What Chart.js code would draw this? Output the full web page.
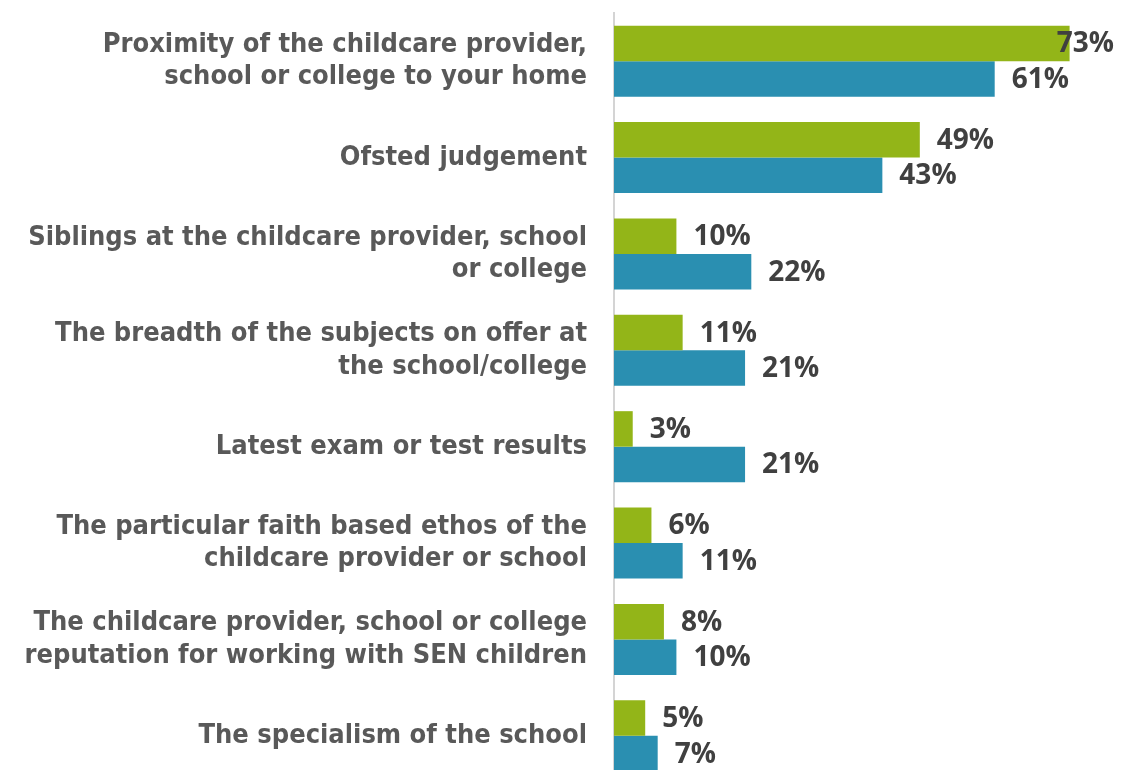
<!DOCTYPE html>
<html>
<head>
<meta charset="utf-8">
<script src="https://cdn.jsdelivr.net/npm/chart.js@4.4.1/dist/chart.umd.min.js"></script>
<style>
  html, body { margin: 0; padding: 0; background: #fff; overflow: hidden; }
  #wrap { width: 1132px; height: 784px; position: relative; }
</style>
</head>
<body>
<div id="wrap"><canvas id="reasonsChart"></canvas></div>
<script>
const categories = [
    ['Proximity of the childcare provider,', 'school or college to your home'],
    'Ofsted judgement',
    ['Siblings at the childcare provider, school', 'or college'],
    ['The breadth of the subjects on offer at', 'the school/college'],
    'Latest exam or test results',
    ['The particular faith based ethos of the', 'childcare provider or school'],
    ['The childcare provider, school or college', 'reputation for working with SEN children'],
    'The specialism of the school'
];
const greenValues = [73, 49, 10, 11, 3, 6, 8, 5];
const blueValues = [61, 43, 22, 21, 21, 11, 10, 7];

// value labels drawn just past the end of each bar, kept inside the canvas
const valueLabels = {
    id: 'valueLabels',
    afterDatasetsDraw(chart) {
        const ctx = chart.ctx;
        ctx.save();
        ctx.font = 'bold 28px "Open Sans"';
        ctx.fillStyle = '#404040';
        ctx.textBaseline = 'middle';
        ctx.textAlign = 'left';
        chart.data.datasets.forEach((ds, i) => {
            chart.getDatasetMeta(i).data.forEach((bar, j) => {
                const text = ds.data[j] + '%';
                const w = ctx.measureText(text).width;
                let x = bar.x + 17;
                if (x + w > chart.width - 18) x = chart.width - 18 - w;
                ctx.fillText(text, x, bar.y + 1);
            });
        });
        ctx.restore();
    }
};

new Chart(document.getElementById('reasonsChart'), {
    type: 'bar',
    data: {
        labels: categories,
        datasets: [
            {
                label: 'Series 1',
                data: greenValues,
                backgroundColor: '#93b518'
            },
            {
                label: 'Series 2',
                data: blueValues,
                backgroundColor: '#2a8fb1'
            }
        ]
    },
    options: {
        indexAxis: 'y',
        responsive: true,
        maintainAspectRatio: false,
        animation: false,
        layout: { padding: { top: 13, right: 0, bottom: 0, left: 0 } },
        plugins: {
            legend: { display: false },
            tooltip: { enabled: false }
        },
        datasets: {
            bar: { barPercentage: 1, categoryPercentage: 0.737 }
        },
        scales: {
            x: {
                display: false,
                min: 0,
                max: 83
            },
            y: {
                grid: { display: false, drawTicks: false },
                border: { display: true, color: '#d4d4d4', width: 2 },
                ticks: {
                    padding: 27,
                    color: '#595959',
                    font: { family: '"DejaVu Sans Condensed", "DejaVu Sans"', weight: 'bold', size: 27, lineHeight: 1.2 }
                },
                afterFit(scale) {
                    scale.width = 614;
                    scale.paddingTop = 0;
                    scale.paddingBottom = 0;
                }
            }
        }
    },
    plugins: [valueLabels]
});
</script>
</body>
</html>
